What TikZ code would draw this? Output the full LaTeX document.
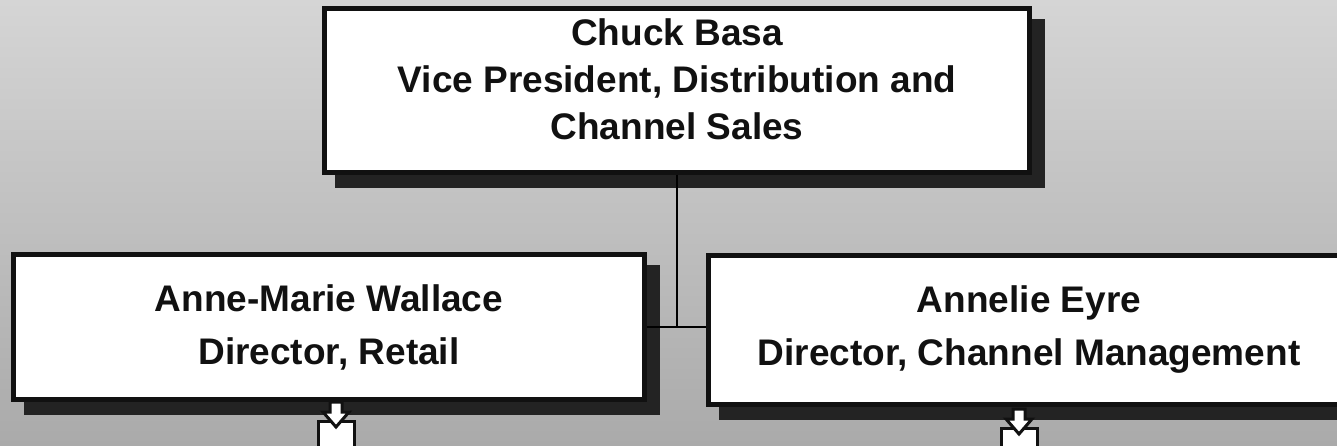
\documentclass[tikz,border=0pt]{standalone}
\usepackage{fontspec}
\setmainfont{Liberation Sans}
\usepackage{tikz}
\usetikzlibrary{shadows,calc}
\definecolor{Ink}{HTML}{111111}
\definecolor{ShadowInk}{HTML}{232323}
\definecolor{BgTop}{HTML}{D5D5D5}
\definecolor{BgBottom}{HTML}{AAAAAA}
\tikzset{
  card/.style={draw=Ink,line width=5pt,fill=white,text=Ink,align=center,inner sep=0pt,
    font=\fontsize{37}{47}\selectfont\bfseries,
    general shadow={shadow xshift=13pt,shadow yshift=-13pt,fill=ShadowInk,draw=ShadowInk,line width=5pt}},
  link/.style={draw=black,line width=2.5pt},
  tray/.style={draw=Ink,line width=3pt,fill=white,line join=miter}
}
\begin{document}
\begin{tikzpicture}[x=1pt,y=-1pt]
  \useasboundingbox (0,0) rectangle (1337,446);
  \clip (0,0) rectangle (1337,446);
  \shade[top color=BgTop,bottom color=BgBottom] (0,0) rectangle (1337,446);
  \node[card,minimum width=705pt,minimum height=164pt,text depth=22pt] (vp) at (677,90.5)
    {Chuck Basa\\Vice President, Distribution and\\Channel Sales};
  \node[card,minimum width=631pt,minimum height=145pt,font=\fontsize{37}{53}\selectfont\bfseries] (retail) at (329,327)
    {Anne-Marie Wallace\\Director, Retail};
  \node[card,minimum width=641pt,minimum height=149pt,font=\fontsize{37}{53}\selectfont\bfseries] (channel) at (1029,330)
    {Annelie Eyre\\Director, Channel Management};
  \draw[link] (retail.east) -- (retail.east -| channel.west);
  \draw[link] (vp.south) -- (vp.south |- retail.east);
  \draw[tray] (318,421) rectangle (354,452);
  \draw[tray] (330,402) -- (342,402) -- (342,412) -- (349,412) -- (336,427) -- (323,412) -- (330,412) -- cycle;
  \draw[tray] (1001,428) rectangle (1037,459);
  \draw[tray] (1013,409) -- (1025,409) -- (1025,419) -- (1032,419) -- (1019,434) -- (1006,419) -- (1013,419) -- cycle;
\end{tikzpicture}
\end{document}
